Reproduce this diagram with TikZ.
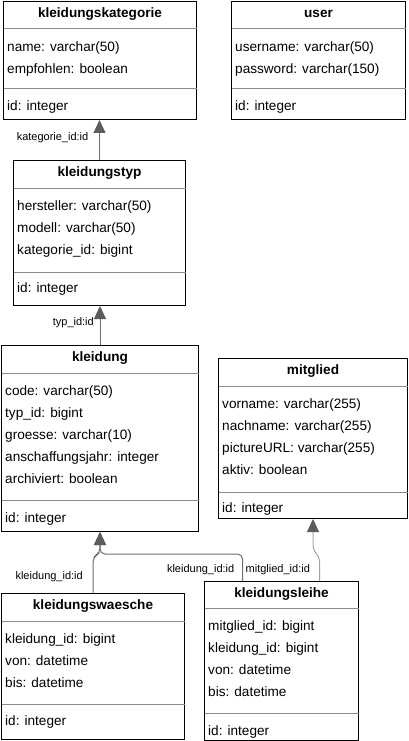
\documentclass[tikz,border=0pt]{standalone}
\usepackage{fontspec}
\setmainfont{Liberation Sans}
\usetikzlibrary{arrows.meta}
\definecolor{sepgray}{HTML}{8C8C8C}
\definecolor{conngray}{HTML}{6E6E6E}
\definecolor{conngrayl}{HTML}{A3A3A3}
\definecolor{tipgray}{HTML}{5C5C5C}
\begin{document}
\begin{tikzpicture}[x=1pt,y=-1pt,
  tbl/.style={draw=black, line width=1pt, anchor=north west, inner sep=0pt},
  ttl/.style={font=\fontsize{13.6}{16}\selectfont\bfseries, inner sep=0pt, text height=10pt, text depth=3pt},
  row/.style={font=\fontsize{13.6}{16}\selectfont, anchor=west, inner sep=0pt, text height=10pt, text depth=3pt},
  sepl/.style={draw=sepgray, line width=1pt, shorten <=0.5pt, shorten >=0.5pt},
  lbl/.style={font=\fontsize{11}{13}\selectfont, inner sep=0pt, text height=8pt, text depth=2.5pt},
  conn/.style={draw=conngray, line width=1pt, rounded corners=5pt, -{Triangle[length=13pt,width=12pt,color=tipgray]}},
  connl/.style={draw=conngrayl, line width=1pt, rounded corners=5pt, -{Triangle[length=13pt,width=12pt,color=tipgray]}}]
\useasboundingbox (0,0) rectangle (408,741);

% kleidungskategorie
\node[tbl, minimum width=193pt, minimum height=118pt] (kk) at (3,1) {};
\node[ttl] (kkT) at ([yshift=-13pt]kk.north) {kleidungskategorie};
\draw[sepl] ([yshift=-28pt]kk.north west) -- ([yshift=-28pt]kk.north east);
\draw[sepl] ([yshift=-88pt]kk.north west) -- ([yshift=-88pt]kk.north east);
\node[row] (kk1) at ([xshift=4pt,yshift=-47pt]kk.north west) {name: varchar(50)};
\node[row] (kk2) at ([xshift=4pt,yshift=-69pt]kk.north west) {empfohlen: boolean};
\node[row] (kk3) at ([xshift=4pt,yshift=-106pt]kk.north west) {id: integer};

% user
\node[tbl, minimum width=174pt, minimum height=118pt] (us) at (231,1) {};
\node[ttl] (usT) at ([yshift=-13pt]us.north) {user};
\draw[sepl] ([yshift=-28pt]us.north west) -- ([yshift=-28pt]us.north east);
\draw[sepl] ([yshift=-88pt]us.north west) -- ([yshift=-88pt]us.north east);
\node[row] (us1) at ([xshift=4pt,yshift=-47pt]us.north west) {username: varchar(50)};
\node[row] (us2) at ([xshift=4pt,yshift=-69pt]us.north west) {password: varchar(150)};
\node[row] (us3) at ([xshift=4pt,yshift=-106pt]us.north west) {id: integer};

% kleidungstyp
\node[tbl, minimum width=172pt, minimum height=145pt] (kt) at (13,160) {};
\node[ttl] (ktT) at ([yshift=-13pt]kt.north) {kleidungstyp};
\draw[sepl] ([yshift=-28pt]kt.north west) -- ([yshift=-28pt]kt.north east);
\draw[sepl] ([yshift=-112pt]kt.north west) -- ([yshift=-112pt]kt.north east);
\node[row] (kt1) at ([xshift=4pt,yshift=-47pt]kt.north west) {hersteller: varchar(50)};
\node[row] (kt2) at ([xshift=4pt,yshift=-69pt]kt.north west) {modell: varchar(50)};
\node[row] (kt3) at ([xshift=4pt,yshift=-91pt]kt.north west) {kategorie\_id: bigint};
\node[row] (kt4) at ([xshift=4pt,yshift=-129pt]kt.north west) {id: integer};

% kleidung
\node[tbl, minimum width=197pt, minimum height=186pt] (kd) at (1,345) {};
\node[ttl] (kdT) at ([yshift=-13pt]kd.north) {kleidung};
\draw[sepl] ([yshift=-28pt]kd.north west) -- ([yshift=-28pt]kd.north east);
\draw[sepl] ([yshift=-155pt]kd.north west) -- ([yshift=-155pt]kd.north east);
\node[row] (kd1) at ([xshift=4pt,yshift=-47pt]kd.north west) {code: varchar(50)};
\node[row] (kd2) at ([xshift=4pt,yshift=-69pt]kd.north west) {typ\_id: bigint};
\node[row] (kd3) at ([xshift=4pt,yshift=-91pt]kd.north west) {groesse: varchar(10)};
\node[row] (kd4) at ([xshift=4pt,yshift=-113pt]kd.north west) {anschaffungsjahr: integer};
\node[row] (kd5) at ([xshift=4pt,yshift=-135pt]kd.north west) {archiviert: boolean};
\node[row] (kd6) at ([xshift=4pt,yshift=-174pt]kd.north west) {id: integer};

% mitglied
\node[tbl, minimum width=189pt, minimum height=160pt] (mg) at (218,358) {};
\node[ttl] (mgT) at ([yshift=-13pt]mg.north) {mitglied};
\draw[sepl] ([yshift=-28pt]mg.north west) -- ([yshift=-28pt]mg.north east);
\draw[sepl] ([yshift=-134pt]mg.north west) -- ([yshift=-134pt]mg.north east);
\node[row] (mg1) at ([xshift=4pt,yshift=-47pt]mg.north west) {vorname: varchar(255)};
\node[row] (mg2) at ([xshift=4pt,yshift=-69pt]mg.north west) {nachname: varchar(255)};
\node[row] (mg3) at ([xshift=4pt,yshift=-91pt]mg.north west) {pictureURL: varchar(255)};
\node[row] (mg4) at ([xshift=4pt,yshift=-113pt]mg.north west) {aktiv: boolean};
\node[row] (mg5) at ([xshift=4pt,yshift=-151pt]mg.north west) {id: integer};

% kleidungswaesche
\node[tbl, minimum width=183pt, minimum height=146pt] (kw) at (1,593) {};
\node[ttl] (kwT) at ([yshift=-13pt]kw.north) {kleidungswaesche};
\draw[sepl] ([yshift=-28pt]kw.north west) -- ([yshift=-28pt]kw.north east);
\draw[sepl] ([yshift=-111pt]kw.north west) -- ([yshift=-111pt]kw.north east);
\node[row] (kw1) at ([xshift=4pt,yshift=-47pt]kw.north west) {kleidung\_id: bigint};
\node[row] (kw2) at ([xshift=4pt,yshift=-69pt]kw.north west) {von: datetime};
\node[row] (kw3) at ([xshift=4pt,yshift=-91pt]kw.north west) {bis: datetime};
\node[row] (kw4) at ([xshift=4pt,yshift=-129pt]kw.north west) {id: integer};

% kleidungsleihe
\node[tbl, minimum width=154pt, minimum height=159pt] (kl) at (204,581) {};
\node[ttl] (klT) at ([yshift=-13pt]kl.north) {kleidungsleihe};
\draw[sepl] ([yshift=-27pt]kl.north west) -- ([yshift=-27pt]kl.north east);
\draw[sepl] ([yshift=-132pt]kl.north west) -- ([yshift=-132pt]kl.north east);
\node[row] (kl1) at ([xshift=4pt,yshift=-46pt]kl.north west) {mitglied\_id: bigint};
\node[row] (kl2) at ([xshift=4pt,yshift=-68pt]kl.north west) {kleidung\_id: bigint};
\node[row] (kl3) at ([xshift=4pt,yshift=-90pt]kl.north west) {von: datetime};
\node[row] (kl4) at ([xshift=4pt,yshift=-112pt]kl.north west) {bis: datetime};
\node[row] (kl5) at ([xshift=4pt,yshift=-151pt]kl.north west) {id: integer};

% connectors
\coordinate (yw) at (0,557);
\coordinate (yk) at (0,553);
\coordinate (yh) at (0,554);
\coordinate (ym1) at (0,557);
\coordinate (ym2) at (0,550);
\coordinate (klA) at ([xshift=-39pt]kl.north);
\coordinate (klB) at ([xshift=38pt]kl.north);

\draw[conn] (kt.north) -- (kt.north |- kk.south);
\draw[conn] (kd.north) -- (kd.north |- kt.south);
\draw[conn] (kw.north) -- (kw.north |- yw) -- (kd.south |- yk) -- (kd.south);
\draw[conn] (klA) -- (klA |- yh) -- (kd.south |- yh) -- (kd.south);
\draw[connl] (klB) -- (klB |- ym1) -- (mg.south |- ym2) -- (mg.south);

% labels
\node[lbl, anchor=east] (l1) at ([xshift=-11pt,yshift=22pt]kt.north) {kategorie\_id:id};
\node[lbl, anchor=east] (l2) at ([xshift=-6pt,yshift=22pt]kd.north) {typ\_id:id};
\node[lbl, anchor=east] (l3) at ([xshift=-10pt,yshift=16pt]kw.north) {kleidung\_id:id};
\node[lbl, anchor=east] (l4) at ([xshift=-8pt,yshift=11pt]klA) {kleidung\_id:id};
\node[lbl, anchor=west] (l5) at ([xshift=3pt,yshift=11pt]klA) {mitglied\_id:id};
\end{tikzpicture}
\end{document}
